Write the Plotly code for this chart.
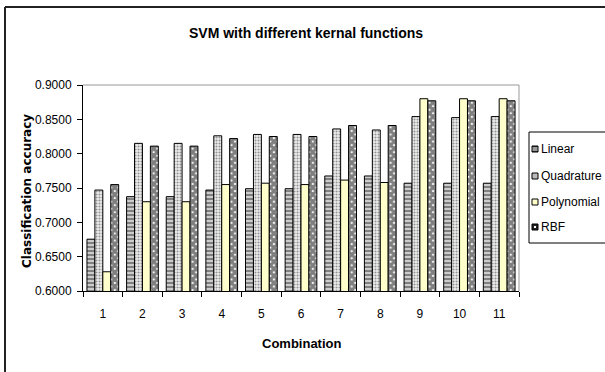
import plotly.graph_objects as go

categories = [str(i) for i in range(1, 12)]
series_names = ["Linear", "Quadrature", "Polynomial", "RBF"]
linear = [0.6755, 0.7374, 0.7374, 0.7470, 0.7490, 0.7490, 0.7675, 0.7675, 0.7570, 0.7570, 0.7570]
quadrature = [0.7470, 0.8150, 0.8150, 0.8260, 0.8280, 0.8280, 0.8360, 0.8345, 0.8540, 0.8525, 0.8540]
polynomial = [0.6280, 0.7300, 0.7300, 0.7550, 0.7570, 0.7550, 0.7615, 0.7580, 0.8800, 0.8800, 0.8800]
rbf = [0.7550, 0.8110, 0.8110, 0.8220, 0.8250, 0.8250, 0.8410, 0.8410, 0.8770, 0.8770, 0.8770]

FONT = "Liberation Sans Narrow, Arial Narrow, Liberation Sans, Arial"

# plot area in pixels
L, R, T, B = 83, 519, 85, 291
W, H = 605, 372
def px(x):
    return (x - L) / (R - L)
def py(y):
    return (B - y) / (B - T)

fig = go.Figure()
fig.add_trace(go.Bar(name="Linear", x=categories, y=linear,
    marker=dict(color="white", line=dict(color="black", width=1),
                pattern=dict(shape="-", fgcolor="black", bgcolor="white", size=4, solidity=0.7))))
fig.add_trace(go.Bar(name="Quadrature", x=categories, y=quadrature,
    marker=dict(color="white", line=dict(color="black", width=1),
                pattern=dict(shape=".", fgcolor="#333333", bgcolor="#eeeeee", size=3, solidity=0.4))))
fig.add_trace(go.Bar(name="Polynomial", x=categories, y=polynomial,
    marker=dict(color="#FFFFCC", line=dict(color="black", width=1))))
fig.add_trace(go.Bar(name="RBF", x=categories, y=rbf,
    marker=dict(color="white", line=dict(color="black", width=1),
                pattern=dict(shape="x", fgcolor="black", bgcolor="white", size=5, solidity=0.85))))

shapes = [
    dict(type="line", xref="paper", yref="paper", x0=0, x1=1, y0=1, y1=1,
         line=dict(color="#999999", width=1)),
    dict(type="line", xref="paper", yref="paper", x0=1, x1=1, y0=0, y1=1,
         line=dict(color="#999999", width=1)),
    # outer chart border (top and left visible)
    dict(type="line", xref="paper", yref="paper", x0=px(5), x1=px(W + 5),
         y0=py(7), y1=py(7), line=dict(color="#222222", width=2)),
    dict(type="line", xref="paper", yref="paper", x0=px(5), x1=px(5),
         y0=py(H + 5), y1=py(7), line=dict(color="#222222", width=2)),
    # legend box
    dict(type="rect", xref="paper", yref="paper", x0=px(529), x1=px(W + 10),
         y0=py(243), y1=py(132), line=dict(color="black", width=1), fillcolor="white"),
]
annotations = []
legend_y = [149, 176, 202, 227]
sym_fill = ["#333333", "#bbbbbb", "#FFFFCC", "#222222"]
for name, yy, fill in zip(series_names, legend_y, sym_fill):
    shapes.append(dict(type="rect", xref="paper", yref="paper",
                       x0=px(532), x1=px(538), y0=py(yy + 3), y1=py(yy - 3),
                       line=dict(color="black", width=1), fillcolor=fill))
    if name == "Linear":
        for dy in (-1, 1):
            shapes.append(dict(type="line", xref="paper", yref="paper",
                               x0=px(532.5), x1=px(537.5), y0=py(yy + dy), y1=py(yy + dy),
                               line=dict(color="white", width=1)))
    if name == "RBF":
        shapes.append(dict(type="rect", xref="paper", yref="paper",
                           x0=px(534), x1=px(536), y0=py(yy + 1), y1=py(yy - 1),
                           line=dict(width=0), fillcolor="white"))
    annotations.append(dict(text=name, xref="paper", yref="paper", x=px(539), y=py(yy),
                            xanchor="left", yanchor="middle", showarrow=False,
                            font=dict(family=FONT, size=12, color="black")))

annotations.append(dict(text="<b>SVM with different kernal functions</b>",
                        xref="paper", yref="paper", x=px(306), y=py(33),
                        xanchor="center", yanchor="middle", showarrow=False,
                        font=dict(family=FONT, size=14, color="black")))
annotations.append(dict(text="<b>Combination</b>",
                        xref="paper", yref="paper", x=px(301), y=py(343),
                        xanchor="center", yanchor="middle", showarrow=False,
                        font=dict(family=FONT, size=13, color="black")))
annotations.append(dict(text="<b>Classification accuracy</b>", textangle=-90,
                        xref="paper", yref="paper", x=px(27), y=py(191),
                        xanchor="center", yanchor="middle", showarrow=False,
                        font=dict(family="DejaVu Sans", size=12, color="black")))

fig.update_layout(
    width=W, height=H,
    margin=dict(l=L, r=W - R, t=T, b=H - B),
    paper_bgcolor="white", plot_bgcolor="white",
    barmode="group", bargap=0.2, bargroupgap=0,
    font=dict(family=FONT, size=12, color="black"),
    showlegend=False,
    xaxis=dict(type="category", showline=True, linecolor="black", linewidth=1,
               ticks="outside", ticklen=5, tickcolor="black", tickson="boundaries",
               tickfont=dict(family=FONT, size=12), showgrid=False,
               ticklabelstandoff=12),
    yaxis=dict(range=[0.6, 0.9], dtick=0.05, tickformat=".4f", showline=True,
               linecolor="black", linewidth=1, ticks="outside", ticklen=5, tickcolor="black",
               showgrid=False, zeroline=False, ticklabelstandoff=3,
               tickfont=dict(family=FONT, size=12)),
    shapes=shapes,
    annotations=annotations,
)

fig.write_html("out.html")
